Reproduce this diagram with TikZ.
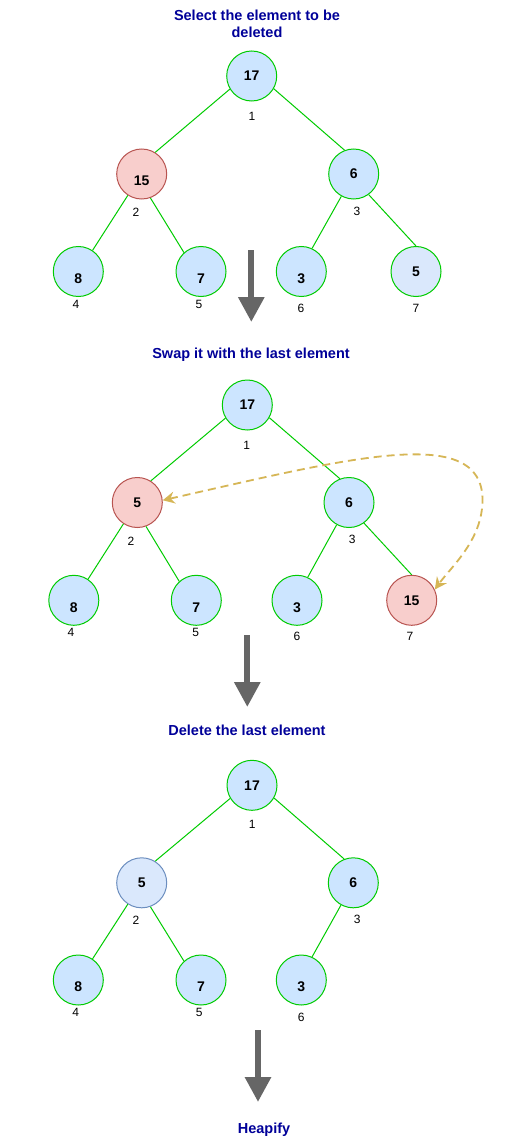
\documentclass[tikz,border=0pt]{standalone}
\usepackage{fontspec}
\setmainfont{Liberation Sans}
\usetikzlibrary{arrows.meta}
\definecolor{grn}{HTML}{00CC00}
\definecolor{bfill}{HTML}{CCE5FF}
\definecolor{lfill}{HTML}{DAE8FC}
\definecolor{lstroke}{HTML}{6C8EBF}
\definecolor{rfill}{HTML}{F8CECC}
\definecolor{rstroke}{HTML}{B85450}
\definecolor{ttl}{HTML}{000099}
\definecolor{arrgray}{HTML}{666666}
\definecolor{ylw}{HTML}{D6B656}
\newcommand{\lowtxt}[1]{\raisebox{-7pt}[\height][\depth]{#1}}
\begin{document}
\begin{tikzpicture}[x=1pt,y=-1pt,
  hn/.style={circle, minimum size=50pt, inner sep=0pt, draw=grn, fill=bfill, line width=1pt,
    font=\fontsize{14}{16}\selectfont\bfseries},
  rednode/.style={draw=rstroke, fill=rfill},
  palenode/.style={fill=lfill},
  bluenode/.style={draw=lstroke, fill=lfill},
  idx/.style={font=\fontsize{12}{14}\selectfont, inner sep=0pt},
  ttlnode/.style={font=\fontsize{14.5}{17}\selectfont\bfseries, text=ttl, align=center, inner sep=0pt},
  edge/.style={draw=grn, line width=1pt},
  bigarrow/.style={draw=arrgray, line width=6pt, -{Triangle[length=25pt,width=25pt]}},
  swaparrow/.style={draw=ylw, line width=1.8pt, dash pattern=on 8pt off 5pt,
    {Stealth[length=12pt,width=12pt,inset=4pt]}-{Stealth[length=12pt,width=12pt,inset=4pt]}}
]
\fill[white] (0,0) rectangle (511,1142);
\useasboundingbox (0,0) rectangle (511,1142);

% ---------- Top tree ----------
\node[ttlnode] (title1) at (257,23.5) {Select the element to be\\deleted};
\node[hn] (t1) at (251.7,76) {17};
\node[hn, rednode] (t2) at (141.7,174) {\lowtxt{15}};
\node[hn] (t3) at (353.7,174) {6};
\node[hn] (t4) at (78.3,271.5) {\lowtxt{8}};
\node[hn] (t5) at (201,271.5) {\lowtxt{7}};
\node[hn] (t6) at (301.3,271.5) {\lowtxt{3}};
\node[hn, palenode] (t7) at (416,271.5) {5};
\draw[edge] (t1.211) -- (t2.58);
\draw[edge] (t1.330) -- (t3.111);
\draw[edge] (t2.237) -- (t4.56);
\draw[edge] (t2.290) -- (t5.132);
\draw[edge] (t3.241) -- (t6.65);
\draw[edge] (t3.306) -- (t7.90);
\node[idx] (ti1) at (252,116) {1};
\node[idx] (ti2) at (136,212) {2};
\node[idx] (ti3) at (357,211) {3};
\node[idx] (ti4) at (76,304) {4};
\node[idx] (ti5) at (199,304) {5};
\node[idx] (ti6) at (301,308) {6};
\node[idx] (ti7) at (416,308) {7};

\coordinate (a1s) at (251.3,250);
\coordinate (a1e) at (251.3,322);
\draw[bigarrow] (a1s) -- (a1e);

% ---------- Middle tree ----------
\node[ttlnode] (title2) at (251,355) {Swap it with the last element};
\node[hn] (m1) at (247.3,405) {17};
\node[hn, rednode] (m2) at (137.3,502.5) {5};
\node[hn] (m3) at (349,502.5) {6};
\node[hn] (m4) at (73.8,600.3) {\lowtxt{8}};
\node[hn] (m5) at (196.3,600.3) {\lowtxt{7}};
\node[hn] (m6) at (297,600.3) {\lowtxt{3}};
\node[hn, rednode] (m7) at (411.7,600.3) {15};
\draw[edge] (m1.211) -- (m2.58);
\draw[edge] (m1.330) -- (m3.111);
\draw[edge] (m2.237) -- (m4.56);
\draw[edge] (m2.290) -- (m5.132);
\draw[edge] (m3.241) -- (m6.65);
\draw[edge] (m3.306) -- (m7.90);
\node[idx] (mi1) at (246.7,445) {1};
\node[idx] (mi2) at (131,541) {2};
\node[idx] (mi3) at (352.3,539.3) {3};
\node[idx] (mi4) at (71,632) {4};
\node[idx] (mi5) at (195.7,632) {5};
\node[idx] (mi6) at (297,636) {6};
\node[idx] (mi7) at (410,636) {7};
\coordinate (sw) at (482.5,500);
\draw[swaparrow] (m2.5) .. controls (350,458) and (482.5,423) .. (sw)
  .. controls (482.5,540) and (451,567) .. (m7.25);

\coordinate (a2s) at (247.3,635);
\coordinate (a2e) at (247.3,707);
\draw[bigarrow] (a2s) -- (a2e);

% ---------- Bottom tree ----------
\node[ttlnode] (title3) at (247,730) {Delete the last element};
\node[hn] (b1) at (252,785.3) {17};
\node[hn, bluenode] (b2) at (141.7,882.8) {5};
\node[hn] (b3) at (353.3,882.8) {6};
\node[hn] (b4) at (78.3,980) {\lowtxt{8}};
\node[hn] (b5) at (201,980) {\lowtxt{7}};
\node[hn] (b6) at (301.3,980) {\lowtxt{3}};
\draw[edge] (b1.211) -- (b2.58);
\draw[edge] (b1.330) -- (b3.111);
\draw[edge] (b2.237) -- (b4.56);
\draw[edge] (b2.290) -- (b5.132);
\draw[edge] (b3.241) -- (b6.65);
\node[idx] (bi1) at (252.3,824.3) {1};
\node[idx] (bi2) at (136,920.7) {2};
\node[idx] (bi3) at (357.3,919.3) {3};
\node[idx] (bi4) at (75.7,1012.3) {4};
\node[idx] (bi5) at (199.3,1012.3) {5};
\node[idx] (bi6) at (301.3,1017.3) {6};

\coordinate (a3s) at (258,1030);
\coordinate (a3e) at (258,1102);
\draw[bigarrow] (a3s) -- (a3e);

\node[ttlnode] (title4) at (264,1130) {Heapify};
\end{tikzpicture}
\end{document}
